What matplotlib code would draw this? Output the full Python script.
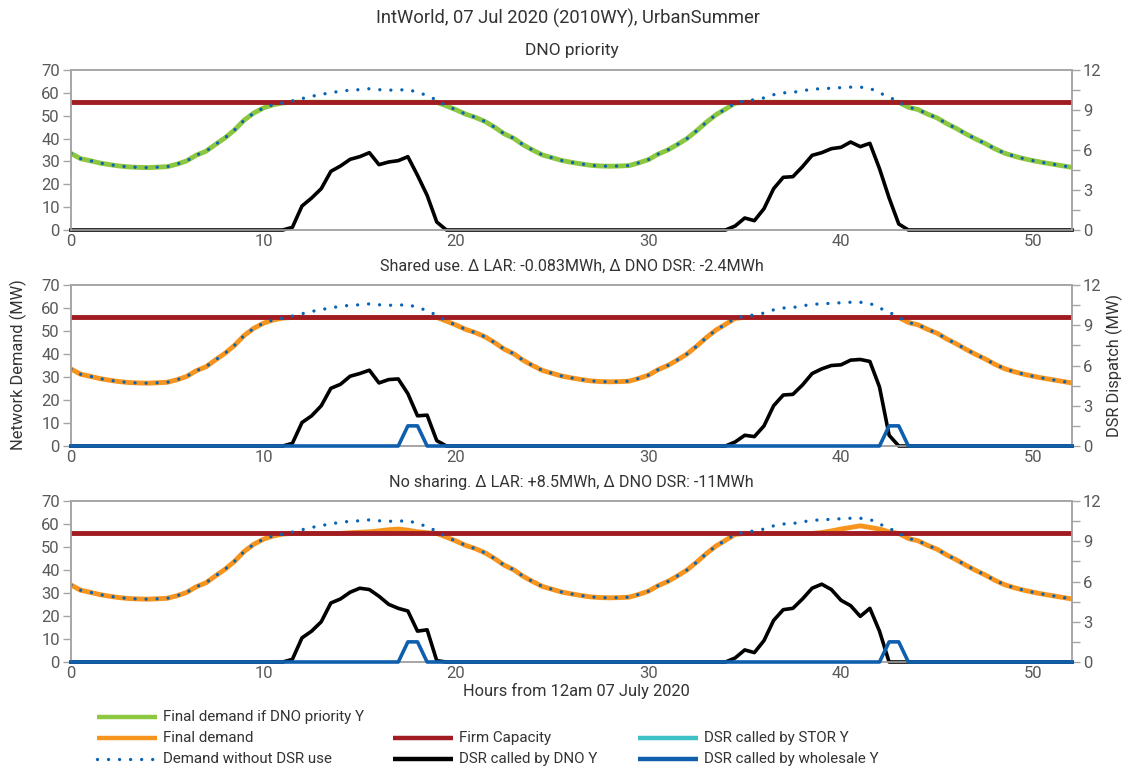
import numpy as np
import matplotlib
matplotlib.use('Agg')
import matplotlib.pyplot as plt
from matplotlib.lines import Line2D

plt.rcParams['font.family'] = ['Roboto', 'DejaVu Sans']

# ---------------- data ----------------
hours = [i * 0.5 for i in range(105)]  # half-hourly, 0 .. 52 h

demand_no_dsr = [
    33.5, 31.2, 30.3, 29.3, 28.6, 28.0, 27.6, 27.4, 27.3, 27.5,
    27.7, 28.8, 30.2, 32.7, 34.4, 37.4, 40.3, 43.8, 48.1, 51.2,
    53.4, 54.8, 55.6, 56.5, 57.5, 58.5, 59.3, 60.1, 60.7, 61.2,
    61.4, 61.8, 61.4, 61.2, 61.2, 61.5, 60.2, 58.9, 56.8, 54.3,
    52.6, 50.7, 49.3, 47.5, 45.0, 42.1, 40.1, 37.2, 34.9, 32.8,
    31.6, 30.4, 29.6, 28.9, 28.3, 28.0, 27.9, 28.0, 28.2, 29.4,
    30.8, 33.2, 35.0, 37.4, 40.0, 43.4, 47.1, 50.4, 52.9, 55.5,
    56.5, 57.0, 57.8, 59.2, 60.0, 60.2, 61.0, 61.5, 61.9, 62.0,
    62.3, 62.5, 62.5, 62.0, 60.0, 58.2, 56.0, 53.7, 52.7, 50.7,
    49.0, 46.5, 44.4, 42.0, 39.8, 37.8, 35.5, 33.6, 32.3, 31.2,
    30.3, 29.5, 28.8, 28.1, 27.4,
]
firm_capacity = 56.0

# final demand where it departs from the no-DSR demand (segment start hour, values)
final_p1_seg_a = (11.5, [55.9] * 16)           # 11.5 .. 19.0
final_p1_seg_b = (35.0, [55.9] * 17)           # 35.0 .. 43.0
final_p2_seg_a = (11.5, [55.9] * 16)
final_p2_seg_b = (35.0, [55.9] * 17)
final_p3_seg_a = (11.5, [55.9, 55.9, 55.9, 55.9, 55.9, 55.9, 56.2, 56.4, 56.6,
                         57.0, 57.5, 57.8, 57.3, 56.6, 56.2, 55.9])
final_p3_seg_b = (35.0, [55.9, 55.9, 55.9, 55.9, 55.9, 55.9, 55.9, 55.9, 56.3,
                         57.0, 57.8, 58.5, 59.2, 58.5, 57.8, 56.6, 55.9])

# DSR called by DNO (MW, right axis)
dno_p1_a = (11.0, [0, 0.2, 1.8, 2.4, 3.1, 4.4, 4.8, 5.3, 5.5, 5.8, 4.9, 5.1, 5.2, 5.5, 4.1, 2.6, 0.6, 0])
dno_p1_b = (34.0, [0, 0.3, 0.9, 0.7, 1.6, 3.1, 3.95, 4.0, 4.75, 5.6, 5.8, 6.1, 6.2, 6.6, 6.25, 6.5, 4.6, 2.4, 0.45, 0])
dno_p2_a = (11.0, [0, 0.2, 1.75, 2.25, 3.0, 4.3, 4.6, 5.2, 5.4, 5.65, 4.7, 4.95, 5.0, 3.9, 2.25, 2.3, 0.4, 0])
dno_p2_b = (34.0, [0, 0.3, 0.8, 0.7, 1.5, 3.0, 3.8, 3.85, 4.55, 5.4, 5.75, 6.0, 6.05, 6.4, 6.45, 6.3, 4.4, 0.8, 0, 0])
dno_p3_a = (11.0, [0, 0.2, 1.8, 2.3, 3.0, 4.4, 4.7, 5.2, 5.5, 5.4, 4.9, 4.3, 4.0, 3.8, 2.3, 2.4, 0.1, 0])
dno_p3_b = (34.0, [0, 0.3, 0.9, 0.7, 1.6, 3.1, 3.9, 4.0, 4.7, 5.5, 5.8, 5.4, 4.6, 4.2, 3.4, 4.0, 2.3, 0, 0, 0])

# DSR called by wholesale (MW)
whl_a = (17.0, [0, 1.5, 1.5, 0])
whl_b = (42.0, [0, 1.5, 1.5, 0])

titles = ["DNO priority",
          "Shared use. \u0394 LAR: -0.083MWh, \u0394 DNO DSR: -2.4MWh",
          "No sharing. \u0394 LAR: +8.5MWh, \u0394 DNO DSR: -11MWh"]
main_title = "IntWorld, 07 Jul 2020 (2010WY), UrbanSummer"
x_label = "Hours from 12am 07 July 2020"
y_label_left = "Network Demand (MW)"
y_label_right = "DSR Dispatch (MW)"
legend_labels = ["Final demand if DNO priority Y", "Final demand", "Demand without DSR use",
                 "Firm Capacity", "DSR called by DNO Y",
                 "DSR called by STOR Y", "DSR called by wholesale Y"]

# ---------------- helpers ----------------
def with_segments(base, *segs):
    s = np.array(base, dtype=float)
    for start, vals in segs:
        i = int(round(start * 2))
        s[i:i + len(vals)] = vals
    return s

zeros = np.zeros(len(hours))

C_GREEN = '#8DC63F'
C_ORANGE = '#F7941D'
C_DOT = '#0A64B4'
C_RED = '#A01C22'
C_BLACK = '#000000'
C_WHL = '#0F5FAD'
C_STOR = '#3EC1C6'
C_AX = '#A6A6A6'
C_TXT = '#595959'
C_TITLE = '#333333'

W, H = 1127, 769
fig = plt.figure(figsize=(W / 100, H / 100), dpi=100)

panels = [(70, 230), (285, 446), (501, 662)]
left_px, right_px = 71, 1072
dot_style = (0, (0.01, 3.3))

for p, (top, bot) in enumerate(panels):
    ax = fig.add_axes([left_px / W, 1 - bot / H, (right_px - left_px) / W, (bot - top) / H])
    ax2 = ax.twinx()
    ax.set_zorder(1)
    ax2.set_zorder(2)
    ax.patch.set_visible(False)
    ax2.patch.set_visible(False)

    if p == 0:
        final = with_segments(demand_no_dsr, final_p1_seg_a, final_p1_seg_b)
        fcol = C_GREEN
        dno = with_segments(zeros, dno_p1_a, dno_p1_b)
    elif p == 1:
        final = with_segments(demand_no_dsr, final_p2_seg_a, final_p2_seg_b)
        fcol = C_ORANGE
        dno = with_segments(zeros, dno_p2_a, dno_p2_b)
    else:
        final = with_segments(demand_no_dsr, final_p3_seg_a, final_p3_seg_b)
        fcol = C_ORANGE
        dno = with_segments(zeros, dno_p3_a, dno_p3_b)
    ax.plot(hours, final, color=fcol, lw=3.5, solid_capstyle='butt', zorder=2)

    ax.plot(hours, [firm_capacity] * len(hours), color=C_RED, lw=3.5, zorder=3)
    ax.plot(hours, demand_no_dsr, color=C_DOT, lw=2.4, linestyle=dot_style,
            dash_capstyle='round', zorder=4)

    ax2.plot(hours, dno, color=C_BLACK, lw=2.6, zorder=2, clip_on=False)
    if p > 0:
        ax2.plot(hours, with_segments(zeros, whl_a, whl_b), color=C_WHL, lw=2.6,
                 zorder=4, clip_on=False)

    ax.set_xlim(0, 52)
    ax.set_ylim(0, 70)
    ax2.set_ylim(0, 12)
    ax.set_yticks(range(0, 71, 10))
    ax.set_xticks(range(0, 51, 10))
    ax2.set_yticks([0, 3, 6, 9, 12])
    ax2.set_yticks([1.5, 4.5, 7.5, 10.5], minor=True)

    ax.tick_params(axis='x', length=0, pad=3, labelsize=12, labelcolor=C_TXT)
    ax.tick_params(axis='y', length=6, width=1, color=C_AX, pad=2, labelsize=12, labelcolor=C_TXT)
    ax2.tick_params(axis='y', which='both', length=6, width=1, color=C_AX, pad=2,
                    labelsize=12, labelcolor=C_TXT)
    for a in (ax, ax2):
        for sp in a.spines.values():
            sp.set_color(C_AX)
            sp.set_linewidth(1.2)

    fs = 12.5 if p == 0 else 11.6
    fig.text((left_px + right_px) / 2 / W, 1 - (top - 19) / H, titles[p],
             ha='center', va='center', fontsize=fs, color=C_TITLE)

fig.text(568 / W, 1 - 18 / H, main_title, ha='center', va='center', fontsize=13.2, color=C_TITLE)
fig.text(576 / W, 1 - 691 / H, x_label, ha='center', va='center', fontsize=11.8, color=C_TITLE)
fig.text(18 / W, 1 - 365 / H, y_label_left, ha='center', va='center', rotation=90,
         fontsize=11.8, color=C_TITLE)
fig.text(1114 / W, 1 - 365 / H, y_label_right, ha='center', va='center', rotation=90,
         fontsize=11.8, color=C_TITLE)

# ---------------- legend ----------------
rows = [717, 738, 759]
legend_items = [
    (97, rows[0], C_GREEN, '-', legend_labels[0]),
    (97, rows[1], C_ORANGE, '-', legend_labels[1]),
    (97, rows[2], C_DOT, 'dot', legend_labels[2]),
    (393, rows[1], C_RED, '-', legend_labels[3]),
    (393, rows[2], C_BLACK, '-', legend_labels[4]),
    (638, rows[1], C_STOR, '-', legend_labels[5]),
    (638, rows[2], C_WHL, '-', legend_labels[6]),
]
for x0, y0, col, ls, lab in legend_items:
    yy = 1 - y0 / H
    if ls == 'dot':
        ln = Line2D([x0 / W, (x0 + 60) / W], [yy, yy], transform=fig.transFigure,
                    color=col, lw=2.4, linestyle=dot_style, dash_capstyle='round')
    else:
        ln = Line2D([x0 / W, (x0 + 60) / W], [yy, yy], transform=fig.transFigure,
                    color=col, lw=3.2, solid_capstyle='butt')
    fig.add_artist(ln)
    fig.text((x0 + 66) / W, yy, lab, ha='left', va='center', fontsize=10.9, color=C_TITLE)

fig.savefig('out.png', dpi=100)
